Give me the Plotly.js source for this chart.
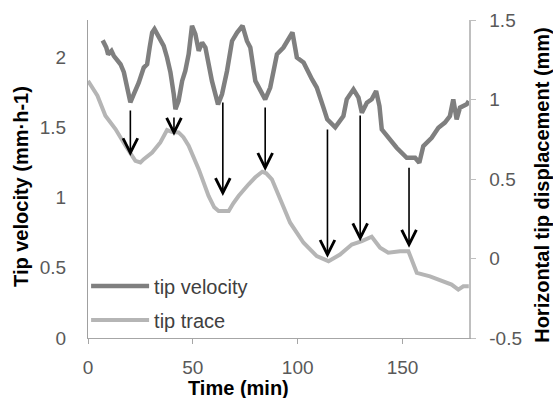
<!DOCTYPE html>
<html>
<head>
<meta charset="utf-8">
<script src="https://cdn.plot.ly/plotly-3.0.1.min.js"></script>
<style>html,body{margin:0;padding:0;background:#fff;}#chart{width:553px;height:398px;}</style>
</head>
<body>
<div id="chart"></div>
<script>
// ---- data ----
var seriesNames = ['tip velocity', 'tip trace'];

// tip velocity (mm·h-1), left axis
var velTime = [7.0, 8.7, 9.6, 11.2, 12.3, 13.9, 15.5, 17.1, 18.7, 20.2, 21.8, 24.2, 26.6, 28.2, 29.4, 30.6, 31.7, 33.7, 36.1, 37.7, 39.3, 40.9, 41.7, 43.2, 44.9, 46.4, 48.0, 49.6, 51.2, 52.8, 54.4, 56.0, 59.1, 62.0, 63.9, 66.3, 68.7, 71.1, 73.7, 75.8, 77.4, 79.8, 82.1, 84.5, 86.9, 90.1, 93.2, 97.5, 99.6, 102.8, 106.8, 109.1, 112.3, 114.1, 117.9, 121.8, 123.4, 126.6, 129.0, 130.6, 133.0, 135.3, 137.4, 139.0, 140.1, 144.1, 147.2, 152.0, 156.0, 158.0, 159.9, 163.9, 167.1, 170.2, 172.6, 174.2, 175.8, 177.4, 180.6, 181.6];
var velValue = [2.12, 2.07, 2.02, 2.045, 2.01, 1.974, 1.95, 1.893, 1.795, 1.679, 1.736, 1.819, 1.926, 1.95, 2.069, 2.176, 2.2, 2.152, 2.081, 1.998, 1.893, 1.736, 1.629, 1.688, 1.831, 1.902, 2.021, 2.224, 2.164, 2.045, 2.105, 2.069, 1.831, 1.664, 1.736, 1.902, 2.116, 2.176, 2.224, 2.116, 2.069, 1.831, 1.759, 1.70, 1.784, 2.021, 2.069, 2.176, 1.998, 1.962, 1.843, 1.784, 1.641, 1.557, 1.50, 1.581, 1.70, 1.771, 1.712, 1.605, 1.676, 1.70, 1.759, 1.652, 1.486, 1.414, 1.355, 1.284, 1.284, 1.248, 1.366, 1.426, 1.498, 1.534, 1.581, 1.70, 1.557, 1.641, 1.664, 1.688];

// tip trace, horizontal tip displacement (mm), right axis
var traceTime = [0, 4.5, 8.3, 13.1, 17.9, 21.1, 22.6, 25.0, 26.6, 30.6, 34.5, 37.7, 40.2, 43.2, 45.5, 48.0, 52.8, 57.5, 60.2, 62.3, 67.1, 69.3, 71.8, 76.6, 79.8, 83.1, 85.0, 87.7, 91.7, 96.4, 102.8, 109.1, 114.7, 120.2, 125.8, 130.6, 135.3, 139.3, 143.2, 148.8, 152.8, 156.8, 163.1, 169.4, 173.4, 176.6, 179.0, 181.6];
var traceValue = [1.117, 1.024, 0.898, 0.814, 0.709, 0.644, 0.614, 0.604, 0.625, 0.667, 0.730, 0.808, 0.795, 0.793, 0.763, 0.709, 0.562, 0.393, 0.322, 0.298, 0.298, 0.347, 0.393, 0.467, 0.511, 0.546, 0.536, 0.498, 0.372, 0.225, 0.099, 0.015, -0.017, 0.025, 0.088, 0.109, 0.137, 0.068, 0.036, 0.046, 0.046, -0.090, -0.112, -0.143, -0.164, -0.196, -0.175, -0.175];

// arrows: time, tail and head (in right-axis units, mm)
var arrowTime = [20.2, 41.0, 64.3, 84.5, 114.2, 129.8, 153.1];
var arrowTail = [0.984, 0.94, 1.035, 1.003, 0.864, 0.953, 0.625];
var arrowHead = [0.644, 0.772, 0.393, 0.551, 0.004, 0.109, 0.068];

// ---- chart ----
var FONT = 'Liberation Sans, Arial, sans-serif';
var traces = [
  {x: velTime, y: velValue, name: seriesNames[0], type: 'scatter', mode: 'lines',
   line: {color: '#7f7f7f', width: 4.5}, yaxis: 'y', legendgroup: 'g1'},
  {x: traceTime, y: traceValue, name: seriesNames[1], type: 'scatter', mode: 'lines',
   line: {color: '#b5b5b5', width: 4}, yaxis: 'y2', legendgroup: 'g2'}
];

var annotations = arrowTime.map(function (t, i) {
  return {x: t, y: arrowHead[i], xref: 'x', yref: 'y2', ax: t, ay: arrowTail[i],
          axref: 'x', ayref: 'y2', showarrow: true, arrowhead: 5, arrowsize: 1.8,
          arrowwidth: 1.6, arrowcolor: '#000000'};
});
annotations.push(
  {text: 'Time (min)', xref: 'paper', yref: 'paper', x: 0.3963, y: -0.157, showarrow: false,
   xanchor: 'center', yanchor: 'middle', font: {family: FONT, size: 20, color: '#000'}},
  {text: 'Tip velocity (mm·h-1)', xref: 'paper', yref: 'paper', x: -0.176, y: 0.478, showarrow: false,
   textangle: -90, xanchor: 'center', yanchor: 'middle', font: {family: FONT, size: 20, color: '#000'}},
  {text: 'Horizontal tip displacement (mm)', xref: 'paper', yref: 'paper', x: 1.191, y: 0.481, showarrow: false,
   textangle: -90, xanchor: 'center', yanchor: 'middle', font: {family: FONT, size: 20, color: '#000'}}
);
annotations.forEach(function (a) { if (!a.showarrow) { a.text = '<b>' + a.text + '</b>'; } });

var layout = {
  width: 553, height: 398,
  margin: {l: 88, r: 84, t: 20, b: 60, pad: 0},
  paper_bgcolor: '#ffffff', plot_bgcolor: '#ffffff',
  font: {family: FONT, color: '#595959'},
  showlegend: true,
  legend: {x: -0.005, y: 0.225, xanchor: 'left', yanchor: 'top', bgcolor: 'rgba(0,0,0,0)',
           font: {family: FONT, size: 20, color: '#404040'}, itemwidth: 58,
           traceorder: 'grouped', tracegroupgap: 5},
  xaxis: {range: [0, 181.7], tickvals: [0, 50, 100, 150], ticks: 'outside', ticklen: 5,
          tickcolor: '#a6a6a6', showline: true, linecolor: '#a6a6a6', linewidth: 1,
          showgrid: false, zeroline: false, tickfont: {size: 19, color: '#595959'},
          ticklabelstandoff: 7},
  yaxis: {range: [0, 2.265], tickvals: [0, 0.5, 1, 1.5, 2], ticktext: ['0', '0.5', '1', '1.5', '2'],
          ticks: '', showline: true, linecolor: '#a0a0a0', linewidth: 1, showgrid: false,
          zeroline: false, tickfont: {size: 19, color: '#595959'}, ticklabelstandoff: 17},
  yaxis2: {range: [-0.5, 1.5], tickvals: [-0.5, 0, 0.5, 1, 1.5], ticktext: ['-0.5', '0', '0.5', '1', '1.5'],
           overlaying: 'y', side: 'right', ticks: 'outside', ticklen: 5, tickcolor: '#bfbfbf',
           showline: true, linecolor: '#bfbfbf', linewidth: 1.5, showgrid: false, zeroline: false,
           tickfont: {size: 19, color: '#595959'}, ticklabelstandoff: 10},
  annotations: annotations
};

Plotly.newPlot('chart', traces, layout, {displayModeBar: false, staticPlot: true});
</script>
</body>
</html>
